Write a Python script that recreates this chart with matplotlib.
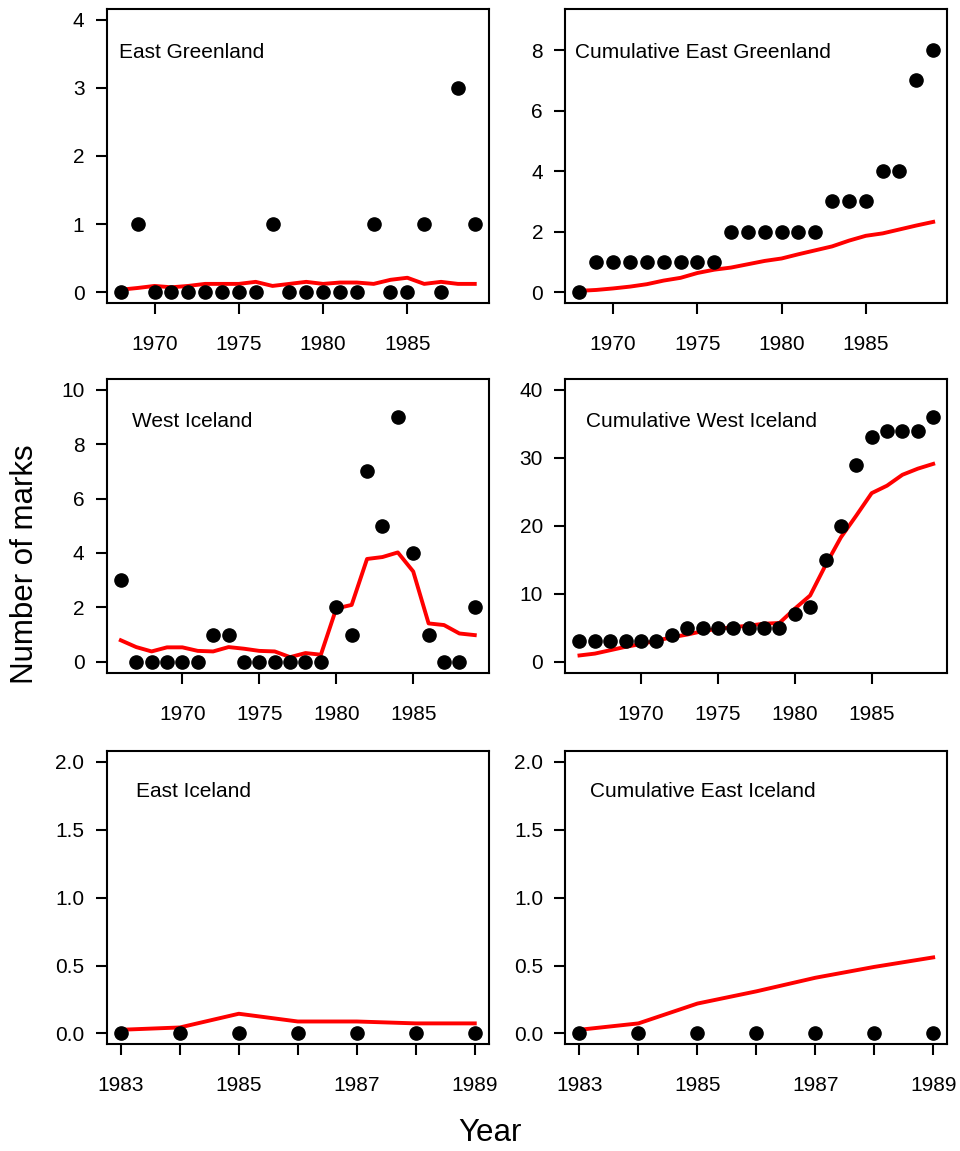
import matplotlib
matplotlib.use('Agg')
import matplotlib.pyplot as plt

plt.rcParams['font.family'] = ['Liberation Sans', 'DejaVu Sans']

# years
eg_years = list(range(1968, 1990))
wi_years = list(range(1966, 1990))
ei_years = list(range(1983, 1990))

# observed marks
eg_obs = [0, 1, 0, 0, 0, 0, 0, 0, 0, 1, 0, 0, 0, 0, 0, 1, 0, 0, 1, 0, 3, 1]
eg_cum_obs = [0, 1, 1, 1, 1, 1, 1, 1, 1, 2, 2, 2, 2, 2, 2, 3, 3, 3, 4, 4, 7, 8]
wi_obs = [3, 0, 0, 0, 0, 0, 1, 1, 0, 0, 0, 0, 0, 0, 2, 1, 7, 5, 9, 4, 1, 0, 0, 2]
wi_cum_obs = [3, 3, 3, 3, 3, 3, 4, 5, 5, 5, 5, 5, 5, 5, 7, 8, 15, 20, 29, 33, 34, 34, 34, 36]
ei_obs = [0, 0, 0, 0, 0, 0, 0]
ei_cum_obs = [0, 0, 0, 0, 0, 0, 0]

# expected (red lines)
eg_exp = [0.035, 0.06, 0.09, 0.07, 0.09, 0.12, 0.12, 0.12, 0.15, 0.09, 0.12,
          0.15, 0.12, 0.14, 0.14, 0.12, 0.18, 0.21, 0.12, 0.15, 0.12, 0.12]
eg_cum_exp = [0.04, 0.07, 0.12, 0.18, 0.26, 0.38, 0.47, 0.63, 0.74, 0.81, 0.92,
              1.03, 1.11, 1.25, 1.38, 1.51, 1.70, 1.86, 1.94, 2.07, 2.20, 2.32]
wi_exp = [0.79, 0.54, 0.38, 0.53, 0.53, 0.40, 0.38, 0.54, 0.48, 0.40, 0.38, 0.17,
          0.32, 0.26, 1.96, 2.09, 3.78, 3.85, 4.02, 3.32, 1.41, 1.35, 1.04, 0.98]
wi_cum_exp = [0.93, 1.2, 1.7, 2.2, 2.6, 3.1, 3.6, 4.0, 4.5, 4.85, 5.1, 5.3,
              5.6, 5.7, 7.8, 9.75, 14.2, 18.3, 21.5, 24.8, 25.9, 27.5, 28.4, 29.1]
ei_exp = [0.027, 0.044, 0.145, 0.088, 0.088, 0.074, 0.074]
ei_cum_exp = [0.027, 0.074, 0.22, 0.31, 0.41, 0.49, 0.56]

fig = plt.figure(figsize=(9.6, 11.51), dpi=100)

panels = [
    # title, years, obs, exp, ymax, yticks, axes rect, text x, text y
    ("East Greenland", eg_years, eg_obs, eg_exp, 4, [0, 1, 2, 3, 4],
     [0.1111, 0.7368, 0.3982, 0.2554], 0.033, 0.853),
    ("Cumulative East Greenland", eg_years, eg_cum_obs, eg_cum_exp, 9, [0, 2, 4, 6, 8],
     [0.5889, 0.7368, 0.3979, 0.2554], 0.024, 0.853),
    ("West Iceland", wi_years, wi_obs, wi_exp, 10, [0, 2, 4, 6, 8, 10],
     [0.1111, 0.4156, 0.3982, 0.2552], 0.065, 0.855),
    ("Cumulative West Iceland", wi_years, wi_cum_obs, wi_cum_exp, 40, [0, 10, 20, 30, 40],
     [0.5889, 0.4156, 0.3979, 0.2552], 0.054, 0.855),
    ("East Iceland", ei_years, ei_obs, ei_exp, 2, [0.0, 0.5, 1.0, 1.5, 2.0],
     [0.1111, 0.0927, 0.3982, 0.2548], 0.076, 0.861),
    ("Cumulative East Iceland", ei_years, ei_cum_obs, ei_cum_exp, 2, [0.0, 0.5, 1.0, 1.5, 2.0],
     [0.5889, 0.0927, 0.3979, 0.2548], 0.065, 0.861),
]

for title, years, obs, exp, ymax, yticks, rect, tx, ty in panels:
    ax = fig.add_axes(rect)
    ax.plot(years, obs, 'o', color='black', markersize=9.5, zorder=3)
    ax.plot(years, exp, '-', color='#ff0000', linewidth=2.8, zorder=2)

    xr = years[-1] - years[0]
    ax.set_xlim(years[0] - 0.04 * xr, years[-1] + 0.04 * xr)
    ax.set_ylim(-0.04 * ymax, ymax * 1.04)

    ax.set_yticks(yticks)
    if ymax == 2:
        ax.set_yticklabels(['%.1f' % v for v in yticks])
        ax.set_xticks(years)
        ax.set_xticklabels([str(y) if y % 2 == 1 else '' for y in years])
    else:
        ax.set_yticklabels([str(v) for v in yticks])
        ax.set_xticks([1970, 1975, 1980, 1985])

    for s in ax.spines.values():
        s.set_linewidth(1.5)
    ax.tick_params(axis='both', direction='out', length=8, width=1.5,
                   labelsize=15, colors='black')
    ax.tick_params(axis='x', pad=15)
    ax.tick_params(axis='y', pad=8)

    ax.text(tx, ty, title, transform=ax.transAxes, fontsize=15,
            ha='left', va='center')

fig.text(0.026, 0.51, 'Number of marks', rotation=90, fontsize=22.5,
         ha='center', va='center')
fig.text(0.51, 0.016, 'Year', fontsize=22.5, ha='center', va='center')

plt.savefig('out.png', dpi=100)
